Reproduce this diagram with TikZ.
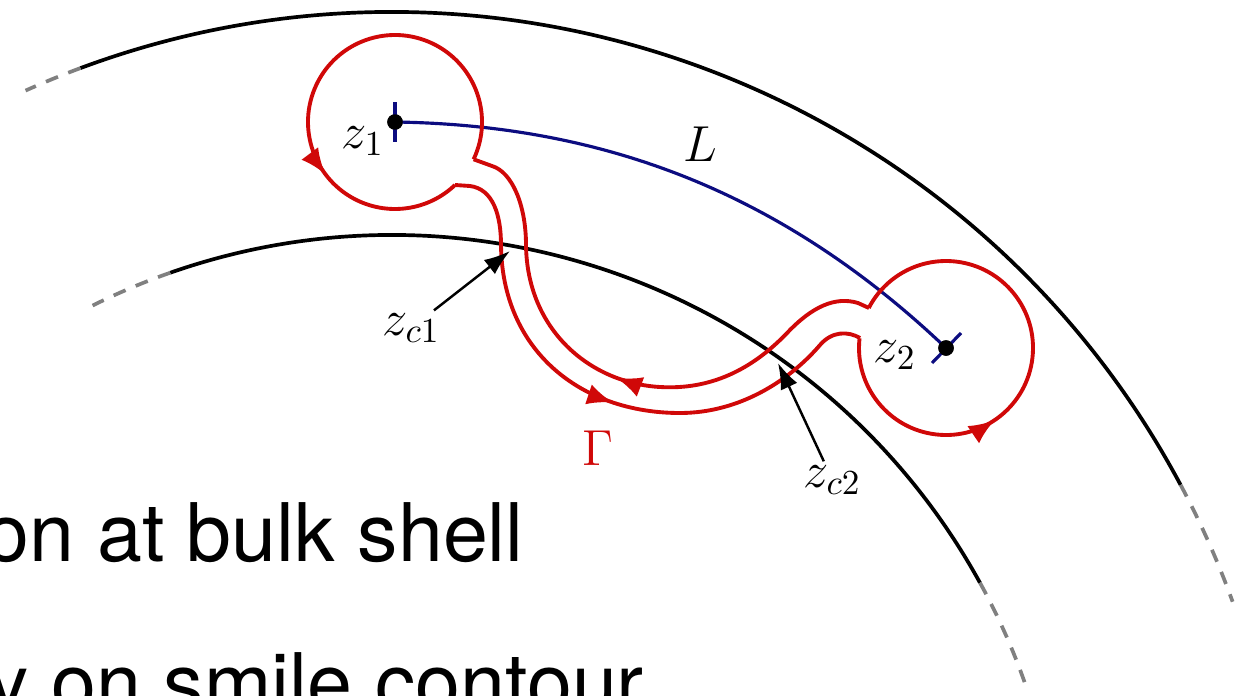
\documentclass[tikz,border=0pt]{standalone}
\usepackage{fontspec}
\newfontfamily\slidefont{TeX Gyre Heros}
\usetikzlibrary{arrows.meta,decorations.markings}
\definecolor{contred}{RGB}{208,8,8}
\definecolor{cutblue}{RGB}{12,12,128}

\begin{document}
\begin{tikzpicture}[x=0.1mm,y=-0.1mm,>=Latex,
  shell/.style={line width=1.05pt},
  shellend/.style={line width=1.05pt,gray,dash pattern=on 1.3mm off 1.1mm},
  cut/.style={cutblue,line width=0.9pt},
  cont/.style={contred,line width=1.1pt,line join=round},
  midarrow/.style={postaction={decorate},decoration={markings,
    mark=at position #1 with {\arrow{Latex[length=2.6mm,width=2.1mm]}}}},
  dot/.style={circle,fill=black,inner sep=0pt,minimum size=1.55mm},
  lbl/.style={inner sep=0pt,font=\Large},
  ptr/.style={-{Latex[length=2.6mm,width=1.8mm]},line width=0.7pt,shorten <=1pt},
  slide/.style={inner sep=0pt,font=\slidefont\fontsize{23}{28}\selectfont}]
\path[use as bounding box,clip] (0,0) rectangle (1258,695);

% bulk shells
\coordinate (O) at (392,906);
\draw[shell] (O) ++(-110.4:894) arc[start angle=-110.4,end angle=-28.1,radius=894];
\draw[shellend] (O) ++(-110.4:894) arc[start angle=-110.4,end angle=-114.2,radius=894];
\draw[shellend] (O) ++(-28.1:894) arc[start angle=-28.1,end angle=-19.9,radius=894];
\draw[shell] (O) ++(-109.3:671) arc[start angle=-109.3,end angle=-28.8,radius=671];
\draw[shellend] (O) ++(-109.3:671) arc[start angle=-109.3,end angle=-116.5,radius=671];
\draw[shellend] (O) ++(-28.8:671) arc[start angle=-28.8,end angle=-18.9,radius=671];

% end points and cut L
\node[dot] (z1) at (395,122) {};
\node[dot] (z2) at (946,348) {};
\draw[cut] (z1.center) .. controls (600,125) and (780,190) .. (z2.center);
\draw[cut] (z1.center) ++(0,-20) -- ++(0,40);
\draw[cut] (z2.center) ++(-14,15) -- ++(29,-30);

% contour Gamma
\draw[cont,midarrow=0.715] (z1.center) ++(25.4:87) arc[start angle=25.4,end angle=-313.6,radius=87];
\draw[cont,midarrow=0.52] (455,185) -- (470,186) .. controls (493,189) and (501,215) .. (501,245)
  .. controls (502,350) and (580,413) .. (680,413) .. controls (740,413) and (790,380) .. (820,345)
  .. controls (832,331) and (848,331) .. (860,338);
\draw[cont,midarrow=0.385] (z2.center) ++(186.4:87) arc[start angle=186.4,end angle=-152.6,radius=87];
\draw[cont,midarrow=0.50] (869,308) -- (858,303) .. controls (835,296) and (812,307) .. (788,332)
  .. controls (752,370) and (710,390) .. (660,387) .. controls (590,383) and (527,330) .. (526,245)
  .. controls (526,205) and (512,172) .. (492,166) -- (473.6,159.3);
\node[dot] at (z1) {};
\node[dot] at (z2) {};

% labels
\node[lbl,anchor=base east] (z1lbl) at (385,148) {$z_1$};
\node[lbl,anchor=base east] (z2lbl) at (917,362) {$z_2$};
\node[lbl,anchor=base] (Llbl) at (700,161) {$L$};
\node[lbl,anchor=base,text=contred] (Glbl) at (598,465) {$\Gamma$};
\node[lbl,anchor=base west] (zc1) at (382,335) {$z_{c1}$};
\node[lbl,anchor=base west] (zc2) at (803,487) {$z_{c2}$};
\coordinate (c1) at (510,251);
\coordinate (c2) at (778,363);
\draw[ptr] (zc1) -- (c1);
\draw[ptr] (zc2) -- (c2);

% slide text behind the figure
\node[slide,anchor=base west] (line1) at (-16,561) {on at bulk shell};
\node[slide,anchor=base west] (line2) at (-12,711) {y on smile contour};
\end{tikzpicture}
\end{document}
